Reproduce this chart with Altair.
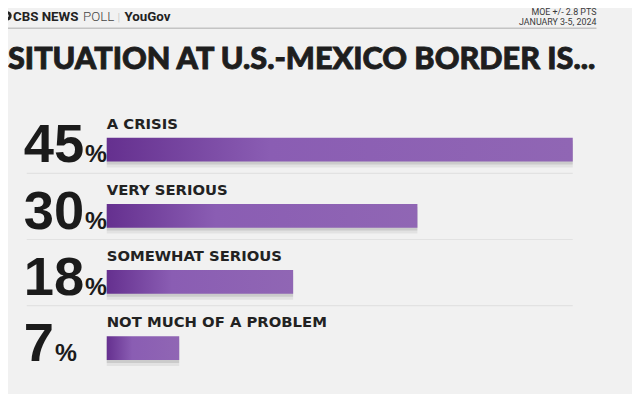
import altair as alt
import pandas as pd

# ---- data ----
categories = ["A CRISIS", "VERY SERIOUS", "SOMEWHAT SERIOUS", "NOT MUCH OF A PROBLEM"]
values = [45, 30, 18, 7]

title_text = "SITUATION AT U.S.-MEXICO BORDER IS..."
brand_bold = "CBS NEWS"
brand_light = "POLL"
brand_partner = "YouGov"
moe_text = "MOE +/- 2.8 PTS"
date_text = "JANUARY 3-5, 2024"

df = pd.DataFrame({"category": categories, "pct": values})

W, H = 632, 386
BG = "#f1f1f1"

yscale = alt.Scale(domain=categories, range=[107.5, 375.5], paddingInner=0, paddingOuter=0)
xscale = alt.Scale(domain=[0, 45], range=[100, 572])

base = alt.Chart(df)
Y = alt.Y("category:N", scale=yscale, axis=None, sort=categories)
X = alt.X("pct:Q", scale=xscale, axis=None)

NUMFONT = "Liberation Sans, Arial, sans-serif"

# separator rules under first three rows
seps = base.transform_filter(alt.datum.pct > 7).mark_rule(
    color="#e2e2e2", strokeWidth=1.2, yOffset=24
).encode(y=Y, x=alt.value(19), x2=alt.value(572))

shadow1 = base.mark_bar(size=24, yOffset=3, color="#000000", opacity=0.10).encode(x=X, y=Y)
shadow2 = base.mark_bar(size=24, yOffset=6, color="#000000", opacity=0.06).encode(x=X, y=Y)

bars = base.mark_bar(
    size=24,
    color=alt.Gradient(
        gradient="linear",
        x1=0, x2=1, y1=0, y2=0,
        stops=[
            alt.GradientStop(offset=0, color="#65308f"),
            alt.GradientStop(offset=0.35, color="#8a5db3"),
            alt.GradientStop(offset=1, color="#9066b4"),
        ],
    ),
).encode(x=X, y=Y)

labels = base.mark_text(
    align="left", baseline="alphabetic", dy=-21, font="DejaVu Sans", fontWeight="bold",
    fontSize=15, color="#222222"
).encode(y=Y, x=alt.value(100), text="category:N")

nums = base.mark_text(
    align="left", baseline="alphabetic", dy=13, font=NUMFONT,
    fontWeight="bold", fontSize=55, color="#1b1b1b"
).encode(y=Y, x=alt.value(16), text="pct:Q")

pcts = base.transform_calculate(
    px="17 + length(toString(datum.pct)) * 30.5", sign="'%'"
).mark_text(
    align="left", baseline="alphabetic", dy=13, font=NUMFONT,
    fontWeight="bold", fontSize=25, color="#1b1b1b"
).encode(y=Y, x=alt.X("px:Q", scale=None), text="sign:N")

brand = alt.layer(*[
    alt.Chart(pd.DataFrame({"t": [t]})).mark_text(
        align="left", baseline="alphabetic", font=f, fontWeight=w,
        fontSize=s, color=c
    ).encode(text="t:N", x=alt.value(x), y=alt.value(10.5))
    for t, x, w, c, s, f in [
        (brand_bold, 5, 700, "#222222", 13.5, "Roboto"),
        (brand_light, 76, 300, "#444444", 13.5, "Roboto"),
        ("|", 111, 300, "#c0c0c0", 12, "Roboto"),
        (brand_partner, 118, 700, "#222222", 13.5, "Roboto"),
    ]
])

logo_outer = alt.Chart(pd.DataFrame({"a": [0]})).mark_point(
    shape="circle", filled=True, size=90, color="#222222", opacity=1
).encode(x=alt.value(-1), y=alt.value(5.5))
logo_inner = alt.Chart(pd.DataFrame({"a": [0]})).mark_point(
    shape="circle", filled=True, size=12, color="#f1f1f1", opacity=1
).encode(x=alt.value(-1), y=alt.value(5.5))

moe = alt.Chart(pd.DataFrame({"t": [moe_text, date_text], "yy": [5, 15]})).mark_text(
    align="right", baseline="alphabetic", font="Roboto", fontSize=9, color="#3a3a3a"
).encode(text="t:N", x=alt.value(596), y=alt.Y("yy:Q", scale=None))

hline = alt.Chart(pd.DataFrame({"a": [0]})).mark_rule(color="#c4c4c4", strokeWidth=1.5).encode(
    x=alt.value(-8), x2=alt.value(596), y=alt.value(18)
)

title = alt.Chart(pd.DataFrame({"t": [title_text]})).mark_text(
    align="left", baseline="alphabetic", font="Lato", fontWeight=900, fontSize=31,
    color="#1e1e1e", stroke="#1e1e1e", strokeWidth=0.9
).encode(text="t:N", x=alt.value(0), y=alt.value(59))

chart = alt.layer(
    seps, shadow2, shadow1, bars, labels, nums, pcts, brand, logo_outer, logo_inner, moe, hline, title
).properties(
    width=W, height=H, padding=0, autosize=alt.AutoSizeParams(type="none"), background=BG
).configure_view(stroke=None)

chart.save("out.html", embed_options={"renderer": "svg", "actions": False})
